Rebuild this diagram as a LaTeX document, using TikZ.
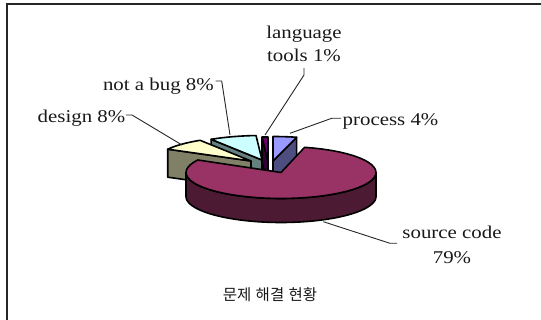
\documentclass[tikz,border=0pt]{standalone}
\usepackage{fontspec}
\setmainfont{Liberation Serif}[FakeStretch=1.16]
\newfontfamily\kofont{Noto Sans CJK KR}
\newcommand{\ttlfont}{\kofont\fontsize{15.5}{18}\selectfont\spaceskip=0.28em\relax}
\definecolor{srcTop}{HTML}{993366}
\definecolor{srcSide}{HTML}{4D1A33}
\definecolor{prcTop}{HTML}{9999FF}
\definecolor{prcSide}{HTML}{4D4D80}
\definecolor{lngTop}{HTML}{660066}
\definecolor{lngSide}{HTML}{330033}
\definecolor{bugTop}{HTML}{CCFFFF}
\definecolor{bugSide}{HTML}{668080}
\definecolor{desTop}{HTML}{FFFFCC}
\definecolor{desSide}{HTML}{808066}
% top face of a slice: apex x, apex y, rx, ry, start, end, colour
\newcommand{\pieTop}[7]{%
  \filldraw[pieline, fill=#7] (#1,#2) -- plot[domain=#5:#6, samples=50] ({#1+#3*sin(\x)},{#2-#4*cos(\x)}) -- cycle;}
% radial cut face: apex x, apex y, rx, ry, angle, depth, colour
\newcommand{\pieCut}[7]{%
  \filldraw[pieline, fill=#7] (#1,#2) -- ({#1+#3*sin(#5)},{#2-#4*cos(#5)}) -- ({#1+#3*sin(#5)},{#2-#4*cos(#5)+#6}) -- (#1,{#2+#6}) -- cycle;}
\begin{document}
\begin{tikzpicture}[x=1pt,y=-1pt,
  pieline/.style={draw=black,line width=1.6pt,line join=round},
  lead/.style={draw=black!85,line width=0.9pt},
  lbl/.style={inner sep=0pt,text=black!90}]
\useasboundingbox (0,0) rectangle (541,320);
% frame
\draw[line width=1.1pt,black!85] (7,320) -- (7,4) -- (541,4);

% not a bug
\pieCut{262}{160}{95}{24.5}{327.6}{26}{bugSide}
\pieTop{262}{160}{95}{24.5}{327.6}{356.4}{bugTop}
% design
\pieCut{251}{161}{95}{24.5}{298.8}{28}{desSide}
\pieTop{251}{161}{95}{24.5}{298.8}{327.6}{desTop}
% process
\pieCut{273}{161}{95}{24.5}{14.4}{25}{prcSide}
\pieTop{273}{161}{95}{24.5}{0}{14.4}{prcTop}
% language tools
\pieCut{268}{162}{95}{25}{356.4}{25}{lngSide}
\pieTop{268}{162}{95}{25}{356.4}{360}{lngTop}
% source code
\filldraw[pieline, fill=srcSide] plot[domain=90:270,samples=80] ({281+95*sin(\x)},{172.5-26*cos(\x)}) -- plot[domain=270:90,samples=80] ({281+95*sin(\x)},{172.5+24-26*cos(\x)}) -- cycle;
\pieTop{281}{172.5}{95}{26}{14.4}{298.8}{srcTop}

% labels
\node[lbl, align=center, anchor=north, font=\fontsize{18}{23}\selectfont] (lang) at (304,25.8) {language\\tools 1\%};
\node[lbl, anchor=base east, font=\fontsize{18}{23}\selectfont] (bug) at (214,90.5) {not a bug 8\%};
\node[lbl, anchor=base east, font=\fontsize{18}{23}\selectfont] (des) at (125.5,122.7) {design 8\%};
\node[lbl, anchor=base west, font=\fontsize{18}{23}\selectfont] (prc) at (342.5,125.5) {process 4\%};
\node[lbl, align=center, anchor=north, font=\fontsize{18}{25}\selectfont] (src) at (452,225.8) {source code\\79\%};
\node[lbl, font=\ttlfont] (ttl) at (270,295) {문제 해결 현황};

% leader points
\coordinate (langK1) at (304,68);
\coordinate (langK2) at (304,75);
\coordinate (langP) at (265,135);
\coordinate (bugK1) at (215.5,81);
\coordinate (bugK2) at (221.7,81);
\coordinate (bugP) at (230,135);
\coordinate (desK1) at (126,115);
\coordinate (desK2) at (132,115);
\coordinate (desP) at (182,145);
\coordinate (prcK1) at (341,118.3);
\coordinate (prcK2) at (331.7,118.3);
\coordinate (prcP) at (290,133.3);
\coordinate (srcK1) at (397,243.3);
\coordinate (srcK2) at (390,243.3);
\coordinate (srcP) at (323.3,221.7);
\draw[lead] (langK1) -- (langK2) -- (langP);
\draw[lead] (bugK1) -- (bugK2) -- (bugP);
\draw[lead] (desK1) -- (desK2) -- (desP);
\draw[lead] (prcK1) -- (prcK2) -- (prcP);
\draw[lead] (srcK1) -- (srcK2) -- (srcP);
\end{tikzpicture}
\end{document}
